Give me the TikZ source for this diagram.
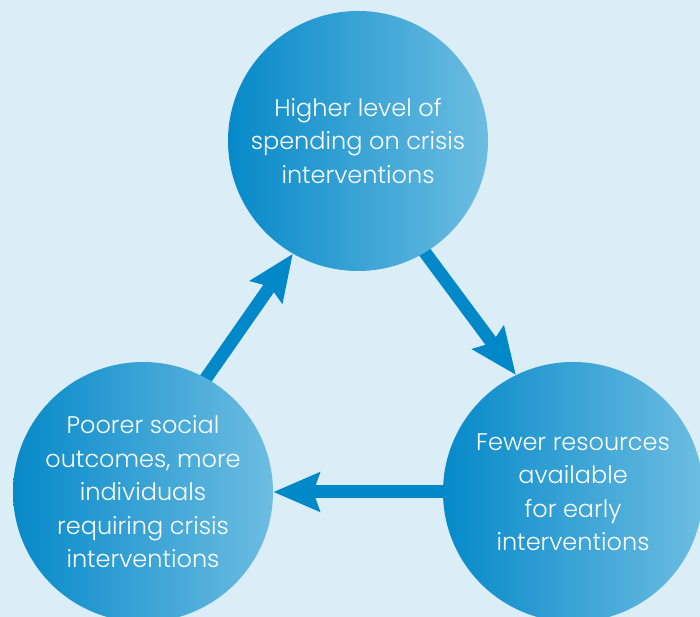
\documentclass[tikz,border=0pt]{standalone}
\usepackage{fontspec}
\setmainfont{Poppins}[UprightFont=* Light]
\usetikzlibrary{arrows.meta}
\definecolor{PageBlue}{HTML}{DBEEF7}
\definecolor{ArrowBlue}{HTML}{0088C9}
\definecolor{BallLeft}{HTML}{0689C9}
\definecolor{BallRight}{HTML}{6DBDE1}
\pgfdeclarelayer{background}
\pgfsetlayers{background,main}

\begin{document}
\begin{tikzpicture}[x=1pt,y=1pt,
    ball/.style={circle,minimum size=260pt,inner sep=0pt,left color=BallLeft,right color=BallRight,
        text=white,align=center,font=\fontsize{24}{33.5}\selectfont},
    flow/.style={line width=13pt,ArrowBlue,-{Stealth[length=46pt,width=38pt,inset=6pt]},shorten <=-20pt}]
    \useasboundingbox (0,0) rectangle (700,617);

    \node[ball] (spend) at (358,476) {Higher level of\\spending on crisis\\interventions};
    \node[ball] (fewer) at (573,125) {Fewer resources\\available\\for early\\interventions};
    \node[ball] (poorer) at (143,125) {Poorer social\\outcomes, more\\individuals\\requiring crisis\\interventions};

    \begin{pgfonlayer}{background}
        \fill[PageBlue] (0,0) rectangle (700,617);
        \draw[flow] (spend.-59) -- (fewer.116);
        \draw[flow] (fewer.180) -- (poorer.0);
        \draw[flow] (poorer.61) -- (spend.-120);
    \end{pgfonlayer}
\end{tikzpicture}
\end{document}
